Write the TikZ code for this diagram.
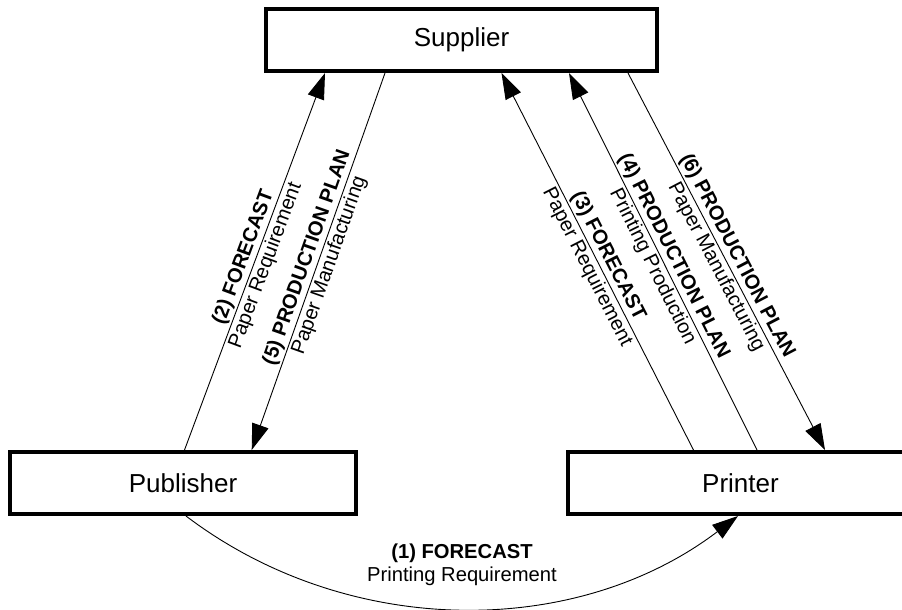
\documentclass[tikz,border=0pt]{standalone}
\usepackage{fontspec}
\setmainfont{Liberation Sans}
\usetikzlibrary{arrows.meta}
\begin{document}
\begin{tikzpicture}[x=1pt,y=1pt,
  entity/.style={draw, line width=4pt, inner sep=0pt, font=\fontsize{26}{30}\selectfont, minimum height=62pt},
  flow/.style={line width=0.9pt, -{Triangle[length=26pt,width=17pt]}},
  labeltext/.style={align=center, inner sep=1pt, font=\fontsize{20.2}{23.5}\selectfont},
  flowlabel/.style={labeltext, midway, sloped}]
\useasboundingbox (0,0) rectangle (902,-610);
\clip (0,0) rectangle (902,-610);
\node[entity, minimum width=391pt] (sup) at (461.5,-40) {Supplier};
\node[entity, minimum width=346pt] (pub) at (183,-483) {Publisher};
\node[entity, minimum width=346pt] (pri) at (740.5,-483) {Printer};

\draw[flow] ([xshift=1.5pt]pub.north) -- ([xshift=-136.5pt]sup.south)
  node[flowlabel] {\textbf{(2) FORECAST}\\Paper Requirement};
\draw[flow] ([xshift=-76.5pt]sup.south) -- ([xshift=68.7pt]pub.north)
  node[flowlabel] {\textbf{(5) PRODUCTION PLAN}\\Paper Manufacturing};
\draw[flow] ([xshift=-47pt]pri.north) -- ([xshift=40pt]sup.south)
  node[flowlabel] {\textbf{(3) FORECAST}\\Paper Requirement};
\draw[flow] ([xshift=16.5pt]pri.north) -- ([xshift=107.5pt]sup.south)
  node[flowlabel] {\textbf{(4) PRODUCTION PLAN}\\Printing Production};
\draw[flow] ([xshift=166.5pt]sup.south) -- ([xshift=84.5pt]pri.north)
  node[flowlabel] {\textbf{(6) PRODUCTION PLAN}\\Paper Manufacturing};
\draw[flow] ([xshift=3pt]pub.south) .. controls +(162,-123) and +(-162,-123) .. ([xshift=-2.5pt]pri.south);
\node[labeltext] (lab1) at (462,-565) {\textbf{(1) FORECAST}\\Printing Requirement};
\end{tikzpicture}
\end{document}
